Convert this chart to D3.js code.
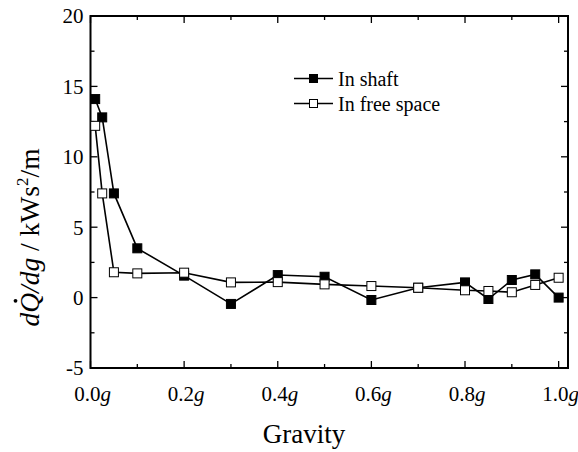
<!DOCTYPE html>
<html>
<head>
<meta charset="utf-8">
<script src="https://cdn.jsdelivr.net/npm/d3@7/dist/d3.min.js"></script>
<style>
  html, body { margin: 0; padding: 0; background: #fff; }
  svg { display: block; }
  text { font-family: "Liberation Serif", "Times New Roman", serif; fill: #000; }
</style>
</head>
<body>
<svg id="chart" width="578" height="452" font-family="Liberation Serif, serif"></svg>
<script>
// ---- data ----
const gravityShaft = [0.01, 0.025, 0.05, 0.1, 0.2, 0.3, 0.4, 0.5, 0.6, 0.7, 0.8, 0.85, 0.9, 0.95, 1.0];
const shaftValues  = [14.1, 12.8, 7.4, 3.5, 1.56, -0.45, 1.6, 1.48, -0.17, 0.7, 1.08, -0.1, 1.25, 1.65, 0.0];
const gravityFree  = [0.01, 0.025, 0.05, 0.1, 0.2, 0.3, 0.4, 0.5, 0.6, 0.7, 0.8, 0.85, 0.9, 0.95, 1.0];
const freeValues   = [12.2, 7.4, 1.8, 1.72, 1.77, 1.08, 1.1, 0.94, 0.82, 0.7, 0.52, 0.47, 0.38, 0.9, 1.41];
const seriesNames  = ["In shaft", "In free space"];
const xTicks = [0, 0.2, 0.4, 0.6, 0.8, 1.0];
const xTickLabels = ["0.0", "0.2", "0.4", "0.6", "0.8", "1.0"];
const yTicks = [-5, 0, 5, 10, 15, 20];
const yTickLabels = ["-5", "0", "5", "10", "15", "20"];

// ---- layout ----
const svg = d3.select("#chart");
const L = 90.5, R = 568, T = 16, B = 368;
const x = d3.scaleLinear().domain([0, 1.02]).range([L, R]);
const y = d3.scaleLinear().domain([-5, 20]).range([B, T]);

const tickFont = 21;
const xMinor = d3.range(0.1, 1.01, 0.2);
const yMinor = d3.range(-2.5, 20, 5);

// ticks (inward, mirrored)
const tickG = svg.append("g").attr("stroke", "#000").attr("stroke-width", 1.3);
function vt(xx, y0, len) { tickG.append("line").attr("x1", xx).attr("x2", xx).attr("y1", y0).attr("y2", y0 + len); }
function ht(yy, x0, len) { tickG.append("line").attr("y1", yy).attr("y2", yy).attr("x1", x0).attr("x2", x0 + len); }
xTicks.forEach(v => { vt(x(v), B, -7); vt(x(v), T, 7); });
xMinor.forEach(v => { vt(x(v), B, -4); vt(x(v), T, 4); });
yTicks.forEach(v => { ht(y(v), L, 7); ht(y(v), R, -7); });
yMinor.forEach(v => { ht(y(v), L, 4); ht(y(v), R, -4); });

// frame
svg.append("rect").attr("x", L).attr("y", T).attr("width", R - L).attr("height", B - T)
  .attr("fill", "none").attr("stroke", "#000").attr("stroke-width", 2);

// x tick labels
xTicks.forEach((v, i) => {
  const t = svg.append("text").attr("x", x(v) + 2).attr("y", B + 33)
    .attr("text-anchor", "middle").attr("font-size", tickFont);
  t.append("tspan").text(xTickLabels[i]);
  t.append("tspan").attr("font-style", "italic").text("g");
});
// y tick labels
yTicks.forEach((v, i) => {
  svg.append("text").attr("x", L - 7).attr("y", y(v)).attr("dy", "0.35em")
    .attr("text-anchor", "end").attr("font-size", tickFont).text(yTickLabels[i]);
});

// axis titles
svg.append("text").attr("x", 304).attr("y", 443).attr("text-anchor", "middle")
  .attr("font-size", 27).text("Gravity");

const yl = svg.append("text").attr("transform", "translate(39,237.5) rotate(-90)")
  .attr("text-anchor", "middle").attr("font-size", 27.5);
yl.append("tspan").attr("font-style", "italic").text("dQ/dg");
yl.append("tspan").text(" / kWs");
yl.append("tspan").attr("font-size", 17).attr("dy", -11).text("2");
yl.append("tspan").attr("dy", 11).text("/m");
// dot over Q
(function () {
  const node = yl.node();
  const ext = node.getExtentOfChar(1);
  svg.append("circle").attr("transform", "translate(39,237.5) rotate(-90)")
    .attr("cx", ext.x + ext.width / 2 + 2).attr("cy", ext.y + 1.5).attr("r", 1.9).attr("fill", "#000");
})();

// series
const shaftData = gravityShaft.map((g, i) => [g, shaftValues[i]]);
const freeData = gravityFree.map((g, i) => [g, freeValues[i]]);
const line = d3.line().x(d => x(d[0])).y(d => y(d[1]));
const ms = 9;

function drawSeries(data, fill) {
  svg.append("path").datum(data).attr("d", line).attr("fill", "none")
    .attr("stroke", "#000").attr("stroke-width", 1.6);
  svg.append("g").selectAll("rect").data(data).join("rect")
    .attr("x", d => x(d[0]) - ms / 2).attr("y", d => y(d[1]) - ms / 2)
    .attr("width", ms).attr("height", ms)
    .attr("fill", fill).attr("stroke", "#000").attr("stroke-width", 1);
}
drawSeries(shaftData, "#000");
drawSeries(freeData, "#fff");

// legend
const legRows = [{ name: seriesNames[0], fill: "#000", y: 78.5 }, { name: seriesNames[1], fill: "#fff", y: 103.5 }];
legRows.forEach(r => {
  svg.append("line").attr("x1", 294).attr("x2", 333).attr("y1", r.y).attr("y2", r.y)
    .attr("stroke", "#000").attr("stroke-width", 1.6);
  svg.append("rect").attr("x", 313.5 - 4).attr("y", r.y - 4).attr("width", 8).attr("height", 8)
    .attr("fill", r.fill).attr("stroke", "#000").attr("stroke-width", 1);
  svg.append("text").attr("x", 338).attr("y", r.y).attr("dy", "0.35em")
    .attr("font-size", 20).text(r.name);
});
</script>
</body>
</html>
